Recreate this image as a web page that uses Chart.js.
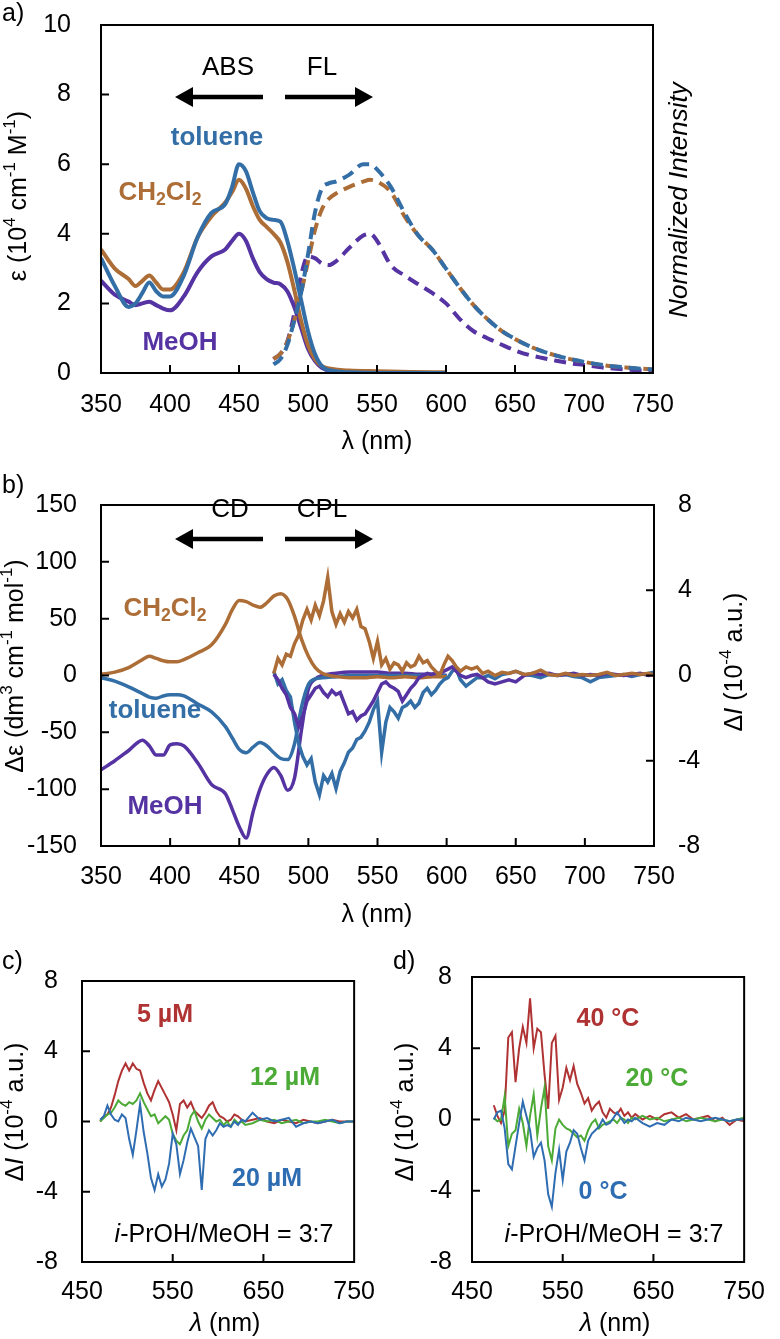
<!DOCTYPE html>
<html lang="en">
<head>
<meta charset="UTF-8">
<title>Absorption, fluorescence, CD and CPL spectra</title>
<style>
  body { margin: 0; background: #fff; width: 780px; height: 1339px; position: relative; overflow: hidden; }
  .panel { position: absolute; }
</style>
</head>
<body>
<div class="panel" style="left:0;top:-20px"><canvas id="chartA" width="780" height="480"></canvas></div>
<div class="panel" style="left:0;top:466px"><canvas id="chartB" width="780" height="480"></canvas></div>
<div class="panel" style="left:0;top:942px"><canvas id="chartC" width="390" height="397"></canvas></div>
<div class="panel" style="left:390px;top:942px"><canvas id="chartD" width="390" height="397"></canvas></div>

<script src="https://cdn.jsdelivr.net/npm/chart.js"></script>
<script>
// ---- data: panel a (absorption, 10^4 M-1 cm-1, and normalized fluorescence) ----
const absWl = [350,360,370,375,380,385,390,395,400,410,420,430,440,445,450,455,460,465,470,475,480,485,490,495,500,505,510,520,530,550,575,600];
const absToluene = [3.3,2.5,1.9,2.0,2.3,2.6,2.35,2.2,2.2,2.8,3.9,4.6,4.85,5.35,6.0,5.8,5.2,4.65,4.45,4.4,4.35,3.8,3.0,2.1,1.2,0.55,0.2,0.05,0.02,0,0,0];
const absCH2Cl2 = [3.55,3.0,2.7,2.5,2.65,2.8,2.6,2.4,2.4,2.9,3.9,4.5,4.9,5.2,5.55,5.3,4.8,4.4,4.2,4.0,3.75,3.2,2.4,1.5,0.8,0.4,0.2,0.1,0.07,0.05,0.03,0.02];
const absMeOH = [2.65,2.25,2.05,1.95,2.0,2.05,1.95,1.85,1.8,2.2,2.9,3.35,3.55,3.8,4.0,3.8,3.3,2.9,2.7,2.6,2.55,2.35,1.9,1.3,0.7,0.35,0.15,0.03,0,0,0,0];

const flWl = [475,480,485,490,495,500,505,510,515,520,530,540,545,550,560,570,580,590,600,610,620,630,640,650,660,670,680,690,700,715,730,750];
const flToluene = [0.25,0.4,0.8,1.5,2.3,3.4,4.6,5.3,5.45,5.5,5.7,6.0,6.0,5.85,5.35,4.6,3.95,3.55,3.0,2.45,1.95,1.55,1.22,0.98,0.78,0.62,0.5,0.4,0.32,0.22,0.16,0.1];
const flCH2Cl2 = [0.4,0.55,0.9,1.5,2.3,3.2,4.1,4.7,5.0,5.15,5.35,5.5,5.55,5.5,5.2,4.5,3.95,3.55,3.0,2.45,1.95,1.55,1.22,0.98,0.78,0.62,0.5,0.4,0.32,0.22,0.16,0.1];
const flMeOH = [0.4,0.55,0.9,1.7,2.8,3.35,3.3,3.15,3.1,3.2,3.6,3.95,4.0,3.8,3.1,2.8,2.55,2.3,2.0,1.55,1.2,1.0,0.82,0.65,0.52,0.43,0.35,0.28,0.23,0.15,0.1,0.06];

// ---- data: panel b (CD, dm3 cm-1 mol-1, and CPL, 10^-4) ----
const cdWl = [350,360,370,380,385,390,395,400,405,410,420,430,440,445,450,455,460,465,470,475,480,485,490,495,500,505,510,520,530,540,550,560,570,580,590,600];
const cdCH2Cl2 = [1,3,7,14,17,15,13,12,12,14,20,27,45,58,66,65,62,60,64,70,72,67,52,32,17,7,2,-1,-2,-2,-1,-2,-1,-2,-1,-1];
const cdToluene = [-2,-5,-10,-16,-19,-20,-18,-17,-17,-18,-25,-32,-45,-55,-65,-68,-63,-59,-62,-68,-73,-74,-60,-28,-8,-3,-2,-1,0,0,0,0,0,0,0,0];
const cdMeOH = [-83,-75,-66,-57,-62,-70,-70,-61,-60,-62,-77,-96,-104,-118,-133,-143,-120,-100,-87,-81,-88,-101,-90,-48,-12,-3,0,2,3,3,3,2,2,1,1,0];

const cplWl = [475,478,481,484,487,490,493,496,499,502,505,508,511,514,517,520,523,526,529,532,535,538,541,544,547,550,553,556,559,562,565,568,571,574,577,580,583,586,589,592,595,598,601,604,607,610,614,618,622,626,630,635,640,645,650,656,662,668,674,680,686,692,698,704,710,716,722,728,734,740,746,750];
const cplCH2Cl2 = [0.1,0.8,0.5,1.0,0.9,1.5,1.9,2.6,3.1,2.6,3.3,2.8,3.5,4.6,3.0,2.4,2.9,2.5,3.0,2.7,3.1,2.3,2.2,1.6,0.8,1.6,0.5,0.8,0.3,0.6,0.5,0.2,0.6,0.4,0.5,0.9,0.6,0.7,0.4,0.2,0.0,0.5,0.9,0.7,0.4,0.2,0.4,0.3,0.4,0.1,0.2,0.0,0.15,0.1,0.2,0.05,0.1,0.25,0.05,0.0,0.1,0.0,0.05,0.0,0.05,0.15,0.0,0.05,0.1,0.05,0.1,0.0];
const cplToluene = [0.2,-0.4,-0.2,-0.7,-1.0,-2.2,-3.2,-3.8,-4.2,-3.9,-5.0,-5.6,-4.7,-5.0,-4.6,-5.3,-4.5,-4.1,-3.6,-3.4,-3.0,-2.9,-2.6,-2.2,-1.6,-1.2,-3.6,-2.2,-1.5,-1.7,-2.0,-1.5,-1.4,-1.2,-1.5,-1.3,-0.8,-0.6,-0.9,-0.7,-0.4,-0.2,-0.1,0.2,0.3,-0.2,-0.5,-0.3,-0.1,-0.1,0.0,-0.15,0.05,0.1,0.2,0.05,0.0,-0.1,0.05,0.0,0.05,-0.05,-0.1,-0.3,-0.1,-0.05,0.0,0.05,-0.05,0.05,0.1,0.15];
const cplMeOH = [0.05,-0.2,-0.6,-0.9,-1.5,-1.8,-2.4,-1.9,-1.2,-0.9,-0.6,-0.5,-0.8,-1.0,-0.7,-0.9,-0.8,-1.3,-1.8,-1.7,-2.1,-1.9,-1.8,-1.5,-1.2,-0.8,-0.4,-0.3,-0.5,-0.6,-0.75,-1.2,-0.9,-0.6,-0.4,-0.1,0.0,0.1,0.05,0.1,0.1,0.2,0.3,0.4,0.2,0.0,-0.1,0.0,0.05,-0.1,-0.3,-0.4,-0.3,-0.2,-0.3,0.0,0.1,0.05,0.1,0.0,0.05,0.1,0.0,0.05,0.0,0.1,0.05,0.0,0.05,0.1,0.0,0.05];

// ---- data: panel c (concentration) ----
const cWl = [470,474,478,482,486,490,494,498,502,506,510,514,518,522,526,530,534,538,542,546,550,554,558,562,566,570,574,578,582,586,590,594,598,602,606,610,614,618,622,626,630,638,646,654,662,670,678,686,694,702,710,718,726,734,742,750];
const c5uM = [0.0,0.3,0.4,0.8,1.5,2.3,2.9,3.3,2.9,3.3,3.0,2.9,2.2,1.6,1.2,1.8,2.3,1.9,1.5,1.1,0.4,-0.5,1.0,1.2,0.8,1.1,0.6,0.4,0.2,0.5,0.9,1.1,0.6,0.3,0.2,0.0,0.1,0.4,0.3,0.1,0.0,0.1,0.2,0.0,-0.1,0.1,0.0,-0.1,0.1,0.0,-0.1,0.0,0.1,0.0,0.0,0.0];
const c12uM = [0.0,0.2,0.4,0.5,0.8,1.2,1.0,0.9,1.1,1.0,1.2,1.6,1.1,0.7,0.3,0.4,-0.1,0.1,0.3,0.1,-0.7,-1.1,-1.3,-0.8,-0.5,0.3,0.6,0.0,-0.4,0.1,0.4,0.2,0.0,0.1,-0.2,0.0,-0.3,0.1,-0.1,0.0,-0.2,-0.1,0.1,0.0,0.1,-0.1,0.0,0.1,-0.1,0.0,0.0,0.1,0.0,-0.1,0.0,0.0];
const c20uM = [0.1,0.3,0.9,0.4,0.1,0.0,0.4,0.2,-1.0,-1.9,-0.5,1.0,-0.6,-1.8,-3.2,-3.9,-3.0,-3.7,-3.3,-2.4,-0.7,-1.3,-3.0,-2.2,-1.2,-0.4,-0.9,-1.4,-3.9,-1.0,-0.5,-0.8,-0.5,-0.1,-0.3,-0.2,-0.3,0.0,-0.2,0.1,0.0,0.5,0.1,0.2,0.0,0.1,0.2,-0.3,-0.1,0.0,-0.1,0.0,0.1,-0.1,0.0,0.0];

// ---- data: panel d (temperature) ----
const dWl = [474,478,482,486,490,494,498,502,506,510,514,518,522,526,530,534,538,542,546,550,554,558,562,566,570,574,578,582,586,590,594,598,602,606,610,614,618,622,626,630,638,646,654,662,670,678,686,694,702,710,718,726,734,742,750];
const d40C = [0.8,0.2,-0.2,0.5,4.6,4.9,2.1,4.0,5.2,4.3,6.8,4.0,5.1,4.9,2.5,0.6,4.3,4.7,1.1,1.8,2.9,2.2,3.0,2.0,1.5,0.9,1.2,0.5,0.8,1.0,0.4,0.1,0.6,0.4,0.3,0.6,0.2,0.4,0.1,0.3,0.0,0.2,0.0,0.3,0.4,0.1,0.3,0.0,0.1,0.2,-0.1,0.1,-0.3,0.0,-0.1];
const d20C = [0.1,-0.1,0.0,1.3,-1.5,-0.8,-0.6,0.6,-0.2,-1.5,0.2,1.4,-0.9,0.6,1.8,-1.5,-2.3,-0.5,0.0,-0.3,-0.5,-0.6,-0.8,-1.0,-0.9,-1.2,-0.6,-0.2,0.0,-0.5,-0.3,-0.2,-0.1,0.0,-0.2,0.1,0.0,-0.2,0.1,0.0,0.2,0.0,0.1,-0.1,0.0,0.1,-0.1,0.0,0.1,0.0,-0.1,0.0,-0.1,0.0,0.1];
const d0C = [0.0,0.4,0.5,-0.5,-2.5,-2.8,-1.5,-0.2,1.0,0.2,-0.6,-2.1,-1.6,-1.3,-2.3,-4.2,-4.9,-3.0,-1.7,-3.4,-1.8,-1.3,-0.6,-0.8,-1.6,-2.3,-1.2,-0.8,-0.6,-0.4,0.0,-0.3,-0.2,0.1,0.4,0.1,-0.2,0.0,-0.1,0.1,-0.2,-0.4,-0.2,-0.3,0.0,-0.1,0.1,0.0,-0.1,0.0,0.1,0.0,-0.1,0.0,0.0];

const FONT = '"Liberation Sans", Arial, sans-serif';
const BLUE = '#336ea6', BROWN = '#ad6d36', PURPLE = '#5533a2';
const RED = '#b03333', GREEN = '#4caa36', CBLUE = '#2f6db2';

const pts = (xs, ys) => xs.map((x, i) => ({ x, y: ys[i] }));
function line(xs, ys, color, width, extra) {
  return Object.assign({ data: pts(xs, ys), borderColor: color, borderWidth: width,
    pointRadius: 0, fill: false, tension: 0 }, extra || {});
}
const smooth = { cubicInterpolationMode: 'monotone' };

// rich text: segments are strings or [text, flags]; flags: i italic, b bold, ^ sup, _ sub
function rich(ctx, segs, x, y, size, opt) {
  opt = opt || {};
  const parts = segs.map(s => typeof s === 'string' ? { t: s, f: '' } : { t: s[0], f: s[1] });
  const fontOf = f => {
    const small = f.includes('^') || f.includes('_');
    return (f.includes('i') ? 'italic ' : '') + (f.includes('b') || opt.bold ? 'bold ' : '') +
      (small ? size * 0.68 : size) + 'px ' + FONT;
  };
  let w = 0;
  parts.forEach(p => { ctx.font = fontOf(p.f); p.w = ctx.measureText(p.t).width; w += p.w; });
  ctx.save();
  ctx.translate(x, y);
  if (opt.rot) ctx.rotate(opt.rot);
  ctx.fillStyle = opt.color || '#000';
  ctx.textBaseline = 'middle';
  ctx.textAlign = 'left';
  let cx = opt.align === 'left' ? 0 : -w / 2;
  parts.forEach(p => {
    ctx.font = fontOf(p.f);
    let dy = 0;
    if (p.f.includes('^')) dy = -size * 0.33;
    if (p.f.includes('_')) dy = size * 0.28;
    ctx.fillText(p.t, cx, dy);
    cx += p.w;
  });
  ctx.restore();
}

function arrow(ctx, x1, x2, y) {
  const dir = Math.sign(x2 - x1), hl = 18, hw = 10;
  ctx.save();
  ctx.strokeStyle = '#000'; ctx.fillStyle = '#000'; ctx.lineWidth = 4.5;
  ctx.beginPath(); ctx.moveTo(x1, y); ctx.lineTo(x2 - dir * hl, y); ctx.stroke();
  ctx.beginPath(); ctx.moveTo(x2, y); ctx.lineTo(x2 - dir * hl, y - hw); ctx.lineTo(x2 - dir * hl, y + hw);
  ctx.closePath(); ctx.fill();
  ctx.restore();
}

const dIunit = ['Δ', ['I', 'i'], ' (10', ['-4', '^'], ' a.u.)'];
const CH2Cl2 = ['CH', ['2', '_b'], 'Cl', ['2', '_b']];
const ROT = -Math.PI / 2;
const TS = 25;   // axis title size
const LS = 26;   // label size

// extra drawing per canvas, in page coordinates
const drawers = {
  chartA: ctx => {
    rich(ctx, ['a)'], 2, 14, 25, { align: 'left' });
    rich(ctx, ['ε (10', ['4', '^'], ' cm', ['-1', '^'], ' M', ['-1', '^'], ')'], 19, 196, TS, { rot: ROT });
    rich(ctx, [['Normalized Intensity', 'i']], 680, 200, 26, { rot: ROT });
    rich(ctx, ['ABS'], 228, 68, LS);
    rich(ctx, ['FL'], 322, 68, LS);
    arrow(ctx, 263, 175, 97);
    arrow(ctx, 285, 373, 97);
    rich(ctx, ['toluene'], 217, 138, LS, { bold: true, color: BLUE });
    rich(ctx, CH2Cl2, 160, 193, LS, { bold: true, color: BROWN });
    rich(ctx, ['MeOH'], 180, 343, LS, { bold: true, color: PURPLE });
    rich(ctx, ['λ (nm)'], 377, 442, TS);
  },
  chartB: ctx => {
    rich(ctx, ['b)'], 2, 486, 25, { align: 'left' });
    rich(ctx, ['Δε (dm', ['3', '^'], ' cm', ['-1', '^'], ' mol', ['-1', '^'], ')'], 16, 666, TS, { rot: ROT });
    rich(ctx, dIunit, 735, 662, TS, { rot: ROT });
    rich(ctx, ['CD'], 230, 510, LS);
    rich(ctx, ['CPL'], 322, 510, LS);
    arrow(ctx, 263, 175, 539);
    arrow(ctx, 285, 373, 539);
    rich(ctx, CH2Cl2, 165, 609, LS, { bold: true, color: BROWN });
    rich(ctx, ['toluene'], 155, 711, LS, { bold: true, color: BLUE });
    rich(ctx, ['MeOH'], 165, 807, LS, { bold: true, color: PURPLE });
    rich(ctx, ['λ (nm)'], 377, 915, TS);
  },
  chartC: ctx => {
    rich(ctx, ['c)'], 2, 962, 25, { align: 'left' });
    rich(ctx, dIunit, 16, 1112, TS, { rot: ROT });
    rich(ctx, ['5 µM'], 165, 1015, 25, { bold: true, color: RED });
    rich(ctx, ['12 µM'], 285, 1078, 25, { bold: true, color: GREEN });
    rich(ctx, ['20 µM'], 267, 1179, 25, { bold: true, color: CBLUE });
    rich(ctx, [['i', 'i'], '-PrOH/MeOH = 3:7'], 224, 1235, 25);
    rich(ctx, [['λ', 'i'], ' (nm)'], 225, 1324, TS);
  },
  chartD: ctx => {
    rich(ctx, ['d)'], 393, 962, 25, { align: 'left' });
    rich(ctx, dIunit, 406, 1112, TS, { rot: ROT });
    rich(ctx, ['40 °C'], 608, 1019, 25, { bold: true, color: RED });
    rich(ctx, ['20 °C'], 657, 1079, 25, { bold: true, color: GREEN });
    rich(ctx, ['0 °C'], 603, 1192, 25, { bold: true, color: CBLUE });
    rich(ctx, [['i', 'i'], '-PrOH/MeOH = 3:7'], 614, 1235, 25);
    rich(ctx, [['λ', 'i'], ' (nm)'], 615, 1324, TS);
  }
};

const framePlugin = {
  id: 'frame',
  afterDatasetsDraw(chart, args, opts) {
    const { ctx, chartArea: a, scales } = chart;
    ctx.save();
    ctx.strokeStyle = '#000';
    ctx.lineWidth = 2;
    ctx.strokeRect(a.left, a.top, a.right - a.left, a.bottom - a.top);
    ctx.beginPath();
    (opts.xMarks || []).forEach(v => { const p = scales.x.getPixelForValue(v); ctx.moveTo(p, a.bottom); ctx.lineTo(p, a.bottom - 8); });
    (opts.yMarks || []).forEach(v => { const p = scales.y.getPixelForValue(v); ctx.moveTo(a.left, p); ctx.lineTo(a.left + 8, p); });
    (opts.y2Marks || []).forEach(v => { const p = scales.y2.getPixelForValue(v); ctx.moveTo(a.right, p); ctx.lineTo(a.right - 8, p); });
    ctx.stroke();
    ctx.restore();
    const c = chart.canvas, r = c.parentNode;
    ctx.save();
    ctx.translate(-parseFloat(r.style.left), -parseFloat(r.style.top));
    drawers[c.id](ctx);
    ctx.restore();
  }
};

const tickFont = { size: 25, family: FONT };
function xScale(min, max, step, pad, h) {
  return { type: 'linear', min, max,
    ticks: { stepSize: step, font: tickFont, color: '#000', padding: pad, maxRotation: 0, autoSkip: false, callback: v => String(v) },
    grid: { display: false, drawTicks: false }, border: { display: false },
    afterFit: s => { s.height = h; } };
}
function yScale(min, max, step, pad, w, pos) {
  return { type: 'linear', position: pos || 'left', min, max,
    ticks: { stepSize: step, font: tickFont, color: '#000', padding: pad, autoSkip: false, callback: v => String(v) },
    grid: { display: false, drawTicks: false }, border: { display: false },
    afterFit: s => { s.width = w; } };
}
function options(pad, scales, frame) {
  return { responsive: false, animation: false, layout: { padding: pad },
    plugins: { legend: { display: false }, tooltip: { enabled: false }, frame },
    scales };
}

new Chart(document.getElementById('chartA'), {
  type: 'line',
  data: { datasets: [
    line(absWl, absToluene, BLUE, 4, smooth),
    line(flWl, flToluene, BLUE, 4, Object.assign({ borderDash: [12, 7] }, smooth)),
    line(absWl, absCH2Cl2, BROWN, 4, smooth),
    line(flWl, flCH2Cl2, BROWN, 4, Object.assign({ borderDash: [12, 7] }, smooth)),
    line(absWl, absMeOH, PURPLE, 4, smooth),
    line(flWl, flMeOH, PURPLE, 4, Object.assign({ borderDash: [12, 7] }, smooth))
  ] },
  options: options({ top: 32, right: 127, left: 0, bottom: 0 },
    { x: xScale(350, 750, 50, 17, 87), y: yScale(0, 10, 2, 30, 101) },
    { xMarks: [400, 450, 500, 550, 600, 650, 700], yMarks: [2, 4, 6, 8] }),
  plugins: [framePlugin]
});

new Chart(document.getElementById('chartB'), {
  type: 'line',
  data: { datasets: [
    line(cplWl, cplCH2Cl2, BROWN, 3.5, { yAxisID: 'y2' }),
    line(cplWl, cplMeOH, PURPLE, 3.5, { yAxisID: 'y2' }),
    line(cplWl, cplToluene, BLUE, 3.5, { yAxisID: 'y2' }),
    line(cdWl, cdCH2Cl2, BROWN, 3.5, smooth),
    line(cdWl, cdToluene, BLUE, 3.5, smooth),
    line(cdWl, cdMeOH, PURPLE, 3.5, smooth)
  ] },
  options: options({ top: 20, right: 0, left: 0, bottom: 0 },
    { x: xScale(350, 750, 50, 16, 100), y: yScale(-150, 150, 50, 24, 101),
      y2: yScale(-8, 8, 4, 24, 126, 'right') },
    { xMarks: [400, 450, 500, 550, 600, 650, 700], yMarks: [-100, -50, 0, 50, 100], y2Marks: [-4, 0, 4] }),
  plugins: [framePlugin]
});

new Chart(document.getElementById('chartC'), {
  type: 'line',
  data: { datasets: [
    line(cWl, c20uM, CBLUE, 2),
    line(cWl, c12uM, GREEN, 2),
    line(cWl, c5uM, RED, 2)
  ] },
  options: options({ top: 20, right: 21, left: 0, bottom: 0 },
    { x: xScale(450, 750, 100, 15, 77), y: yScale(-8, 8, 4, 24, 82) },
    { xMarks: [550, 650], yMarks: [-4, 0, 4] }),
  plugins: [framePlugin]
});

new Chart(document.getElementById('chartD'), {
  type: 'line',
  data: { datasets: [
    line(dWl, d0C, CBLUE, 2),
    line(dWl, d20C, GREEN, 2),
    line(dWl, d40C, RED, 2)
  ] },
  options: options({ top: 20, right: 22, left: 0, bottom: 0 },
    { x: xScale(450, 750, 100, 15, 77), y: yScale(-8, 8, 4, 20, 82) },
    { xMarks: [550, 650], yMarks: [-4, 0, 4] }),
  plugins: [framePlugin]
});
</script>
</body>
</html>
